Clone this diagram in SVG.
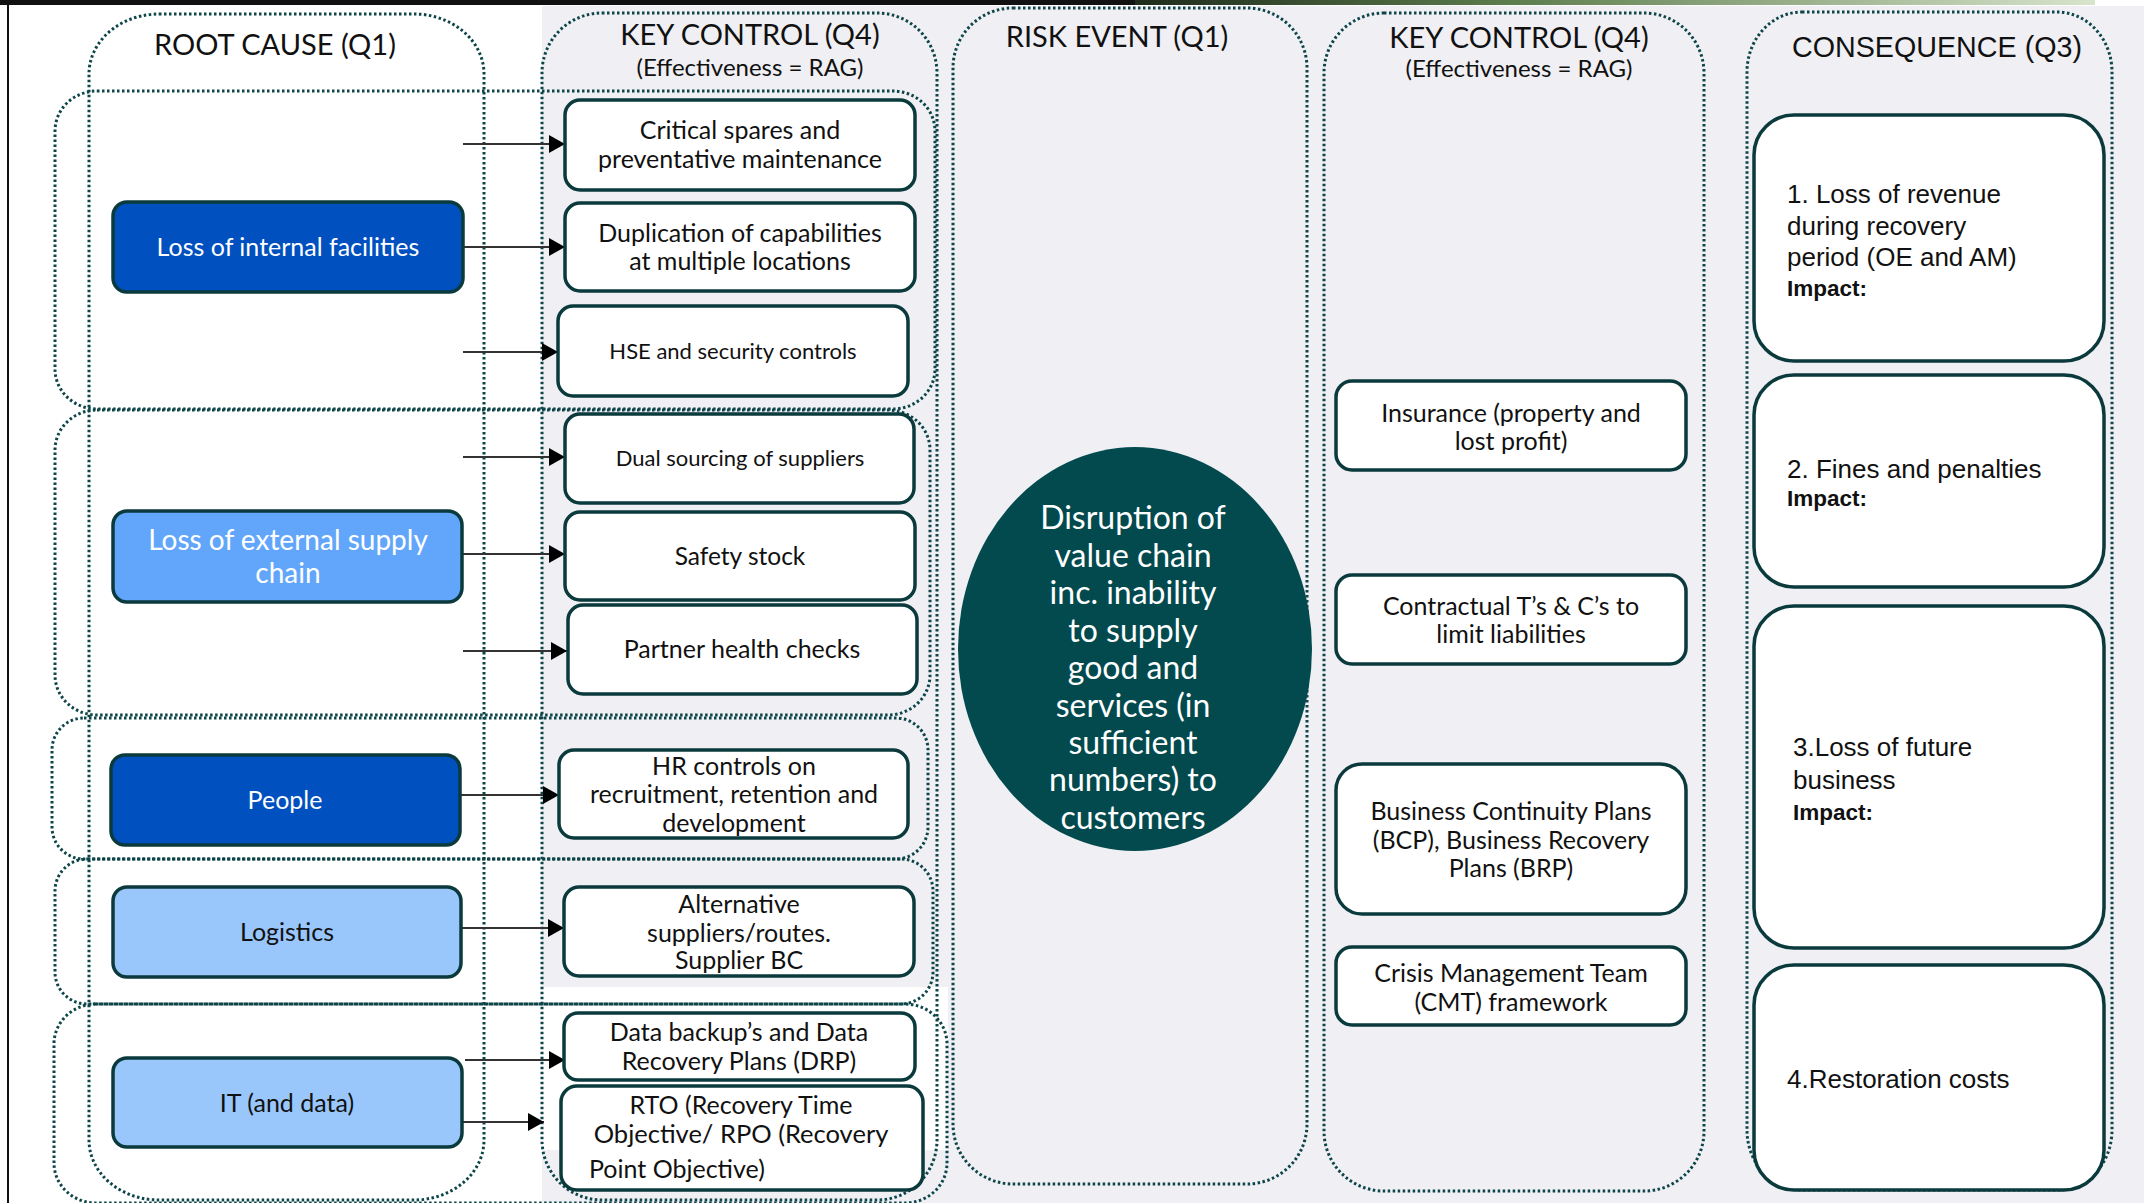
<svg xmlns="http://www.w3.org/2000/svg" width="2144" height="1203" viewBox="0 0 2144 1203">
<defs>
<linearGradient id="topg" x1="0" y1="0" x2="1" y2="0">
<stop offset="0" stop-color="#1e2a1a"/>
<stop offset="0.4" stop-color="#5f7f4f"/>
<stop offset="1" stop-color="#d8e4cc"/>
</linearGradient>
<marker id="ah" markerUnits="userSpaceOnUse" markerWidth="16" markerHeight="18" viewBox="0 0 16 18" refX="16" refY="9" orient="auto">
<path d="M0,0 L16,9 L0,18 z" fill="#000"/>
</marker>
</defs>
<style>
.dot{fill:none;stroke:#0d4549;stroke-width:3;stroke-dasharray:2.5 2.5}
.box{fill:#fff;stroke:#0b3a3d;stroke-width:3.5}
.rc{stroke:#0b3a3d;stroke-width:3.5}
.t{font-family:Lato,"Noto Sans",sans-serif;fill:#111;text-anchor:middle}
.w{fill:#fff}
.h{font-family:Lato,"Noto Sans",sans-serif;fill:#111;text-anchor:middle;font-size:29px}
.sub{font-size:24px}
.c{font-family:"Liberation Sans",Arial,sans-serif;fill:#111;font-size:26px}
.imp{font-family:"Liberation Sans",Arial,sans-serif;font-weight:bold;fill:#111;font-size:22.5px}
.arr{stroke:#333;stroke-width:1.8;fill:none;marker-end:url(#ah)}
</style>
<rect x="0" y="0" width="2144" height="1203" fill="#fff"/>
<rect x="542" y="6" width="1602" height="1197" fill="#efeff4"/>
<rect x="542" y="987" width="406" height="163" fill="#fff"/>
<rect x="0" y="0" width="1135" height="5" fill="#111"/>
<rect x="1135" y="0" width="960" height="5" fill="url(#topg)"/>
<rect x="7" y="0" width="2" height="1203" fill="#111"/>

<g id="columns">
<rect class="dot" x="89" y="14" width="395" height="1186" rx="70" ry="60"/>
<rect class="dot" x="542" y="13" width="395" height="1187" rx="60" ry="60"/>
<rect class="dot" x="953" y="8" width="354" height="1176" rx="60" ry="60"/>
<rect class="dot" x="1324" y="13" width="380" height="1178" rx="60" ry="60"/>
<rect class="dot" x="1747" y="12" width="365" height="1178" rx="55" ry="60"/>
</g>
<g id="headers">
<text class="h" x="275" y="55">ROOT CAUSE (Q1)</text>
<text class="h" x="750" y="45">KEY CONTROL (Q4)</text>
<text class="h sub" x="750" y="76">(Effectiveness = RAG)</text>
<text class="h" x="1117" y="47">RISK EVENT (Q1)</text>
<text class="h" x="1519" y="48">KEY CONTROL (Q4)</text>
<text class="h sub" x="1519" y="77">(Effectiveness = RAG)</text>
<text x="1937" y="57" style="font-family:'Liberation Sans',Arial,sans-serif;font-size:28.7px;fill:#111;text-anchor:middle">CONSEQUENCE (Q3)</text>
</g>
<g id="groups">
<rect class="dot" x="55" y="91" width="880" height="318" rx="42" ry="40"/>
<rect class="dot" x="55" y="410" width="875" height="305" rx="42" ry="40"/>
<rect class="dot" x="52" y="718" width="876" height="141" rx="32" ry="32"/>
<rect class="dot" x="55" y="859" width="878" height="145" rx="32" ry="32"/>
<rect class="dot" x="54" y="1004" width="893" height="199" rx="42" ry="40"/>
</g>

<g id="connectors">
<line class="arr" x1="463" y1="144" x2="565" y2="144"/>
<line class="arr" x1="463" y1="247" x2="565" y2="247"/>
<line class="arr" x1="463" y1="352" x2="558" y2="352"/>
<line class="arr" x1="463" y1="457" x2="565" y2="457"/>
<line class="arr" x1="463" y1="554" x2="565" y2="554"/>
<line class="arr" x1="463" y1="651" x2="567" y2="651"/>
<line class="arr" x1="460" y1="795" x2="559" y2="795"/>
<line class="arr" x1="461" y1="928" x2="564" y2="928"/>
<line class="arr" x1="465" y1="1060" x2="565" y2="1060"/>
<line class="arr" x1="461" y1="1122" x2="544" y2="1122"/>
</g>

<g id="rc1"><rect class="rc" x="113" y="202" width="350" height="90" rx="14" fill="#0050c0"/><text class="t w" x="288" y="256" font-size="25">Loss of internal facilities</text></g>
<g id="rc2"><rect class="rc" x="113" y="511" width="349" height="91" rx="14" fill="#62a6fb"/><text class="t w" x="288" y="550" font-size="28">Loss of external supply</text><text class="t w" x="288" y="583" font-size="28">chain</text></g>
<g id="rc3"><rect class="rc" x="111" y="755" width="349" height="90" rx="14" fill="#0050c0"/><text class="t w" x="285" y="809" font-size="25">People</text></g>
<g id="rc4"><rect class="rc" x="113" y="887" width="348" height="90" rx="14" fill="#99c7fc"/><text class="t" x="287" y="941" font-size="25">Logistics</text></g>
<g id="rc5"><rect class="rc" x="113" y="1058" width="349" height="89" rx="14" fill="#99c7fc"/><text class="t" x="287" y="1112" font-size="25">IT (and data)</text></g>

<g id="kc1"><rect class="box" x="565" y="100" width="350" height="90" rx="15"/><text class="t" x="740" y="139" font-size="25">Critical spares and</text><text class="t" x="740" y="168" font-size="25">preventative maintenance</text></g>
<g id="kc2"><rect class="box" x="565" y="203" width="350" height="88" rx="15"/><text class="t" x="740" y="242" font-size="25">Duplication of capabilities</text><text class="t" x="740" y="270" font-size="25">at multiple locations</text></g>
<g id="kc3"><rect class="box" x="558" y="306" width="350" height="90" rx="15"/><text class="t" x="733" y="359" font-size="22">HSE and security controls</text></g>
<g id="kc4"><rect class="box" x="565" y="414" width="349" height="89" rx="15"/><text class="t" x="740" y="466" font-size="22">Dual sourcing of suppliers</text></g>
<g id="kc5"><rect class="box" x="565" y="512" width="350" height="88" rx="15"/><text class="t" x="740" y="565" font-size="24.5">Safety stock</text></g>
<g id="kc6"><rect class="box" x="568" y="605" width="349" height="89" rx="15"/><text class="t" x="742" y="658" font-size="25">Partner health checks</text></g>
<g id="kc7"><rect class="box" x="559" y="750" width="349" height="88" rx="15"/><text class="t" x="734" y="775" font-size="25">HR controls on</text><text class="t" x="734" y="803" font-size="25">recruitment, retention and</text><text class="t" x="734" y="832" font-size="25">development</text></g>
<g id="kc8"><rect class="box" x="564" y="887" width="350" height="89" rx="15"/><text class="t" x="739" y="913" font-size="25">Alternative</text><text class="t" x="739" y="942" font-size="25">suppliers/routes.</text><text class="t" x="739" y="969" font-size="25">Supplier BC</text></g>
<g id="kc9"><rect class="box" x="564" y="1013" width="351" height="67" rx="14"/><text class="t" x="739" y="1041" font-size="25">Data backup’s and Data</text><text class="t" x="739" y="1070" font-size="25">Recovery Plans (DRP)</text></g>
<g id="kc10"><rect class="box" x="561" y="1086" width="362" height="104" rx="16"/><text class="t" x="741" y="1114" font-size="25">RTO (Recovery Time</text><text class="t" x="741" y="1143" font-size="25.5">Objective/ RPO (Recovery</text><text class="t" x="589" y="1178" font-size="25" style="text-anchor:start">Point Objective)</text></g>

<g id="risk"><ellipse cx="1135" cy="649" rx="177" ry="202" fill="#024a4e"/>
<text class="t w" x="1133" y="529" font-size="32">Disruption of</text>
<text class="t w" x="1133" y="567" font-size="32">value chain</text>
<text class="t w" x="1133" y="604" font-size="32">inc. inability</text>
<text class="t w" x="1133" y="642" font-size="32">to supply</text>
<text class="t w" x="1133" y="679" font-size="32">good and</text>
<text class="t w" x="1133" y="717" font-size="32">services (in</text>
<text class="t w" x="1133" y="754" font-size="32">sufficient</text>
<text class="t w" x="1133" y="791" font-size="32">numbers) to</text>
<text class="t w" x="1133" y="829" font-size="32">customers</text>
</g>

<g id="kc11"><rect class="box" x="1336" y="381" width="350" height="89" rx="16"/><text class="t" x="1511" y="422" font-size="25">Insurance (property and</text><text class="t" x="1511" y="450" font-size="25">lost profit)</text></g>
<g id="kc12"><rect class="box" x="1336" y="575" width="350" height="89" rx="16"/><text class="t" x="1511" y="615" font-size="25">Contractual T’s &amp; C’s to</text><text class="t" x="1511" y="643" font-size="25">limit liabilities</text></g>
<g id="kc13"><rect class="box" x="1336" y="764" width="350" height="150" rx="26"/><text class="t" x="1511" y="820" font-size="25">Business Continuity Plans</text><text class="t" x="1511" y="849" font-size="25">(BCP), Business Recovery</text><text class="t" x="1511" y="877" font-size="25">Plans (BRP)</text></g>
<g id="kc14"><rect class="box" x="1336" y="947" width="350" height="78" rx="16"/><text class="t" x="1511" y="982" font-size="25">Crisis Management Team</text><text class="t" x="1511" y="1011" font-size="25">(CMT) framework</text></g>

<g id="cq1"><rect class="box" x="1754" y="115" width="350" height="246" rx="40"/><text class="c" x="1787" y="203">1. Loss of revenue</text><text class="c" x="1787" y="235">during recovery</text><text class="c" x="1787" y="266">period (OE and AM)</text><text class="imp" x="1787" y="296">Impact:</text></g>
<g id="cq2"><rect class="box" x="1754" y="375" width="350" height="212" rx="40"/><text class="c" x="1787" y="478" font-size="26.8">2. Fines and penalties</text><text class="imp" x="1787" y="506">Impact:</text></g>
<g id="cq3"><rect class="box" x="1754" y="606" width="350" height="342" rx="40"/><text class="c" x="1793" y="756" font-size="28">3.Loss of future</text><text class="c" x="1793" y="789" font-size="28">business</text><text class="imp" x="1793" y="820" font-size="28">Impact:</text></g>
<g id="cq4"><rect class="box" x="1754" y="965" width="350" height="225" rx="40"/><text class="c" x="1787" y="1088" font-size="24">4.Restoration costs</text></g>
</svg>
